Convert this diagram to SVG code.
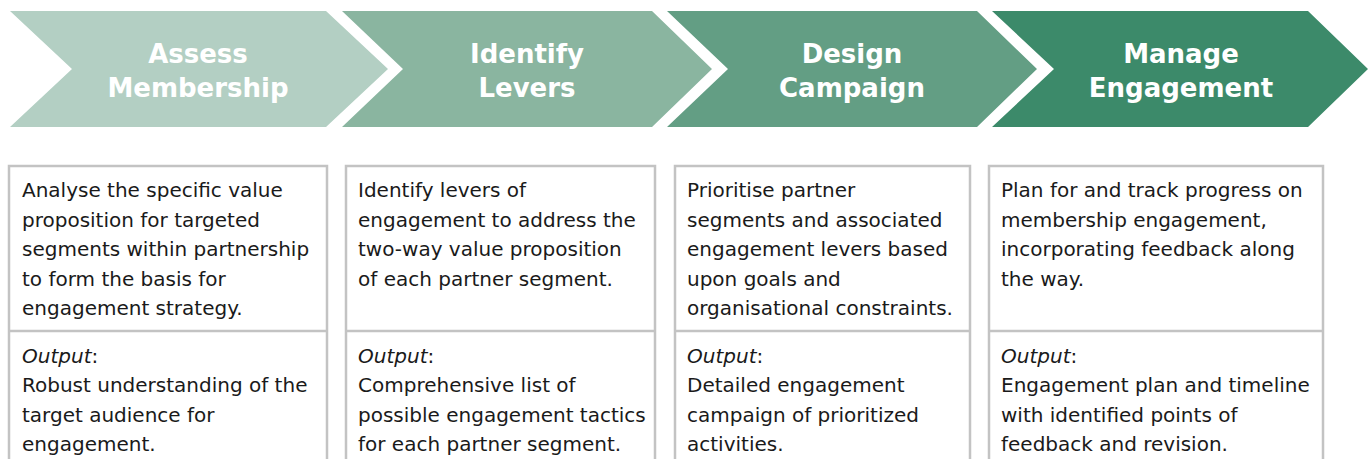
<svg xmlns="http://www.w3.org/2000/svg" width="1368" height="459" viewBox="0 0 1368 459">
<style>
.title{font-family:"DejaVu Sans",sans-serif;font-weight:bold;font-size:26px;fill:#ffffff;text-anchor:middle}
.body{font-family:"DejaVu Sans",sans-serif;font-size:20px;fill:#1a1a1a}
.it{font-style:italic}
.box{fill:#ffffff;stroke:#c3c3c3;stroke-width:2.5}
</style>
<rect width="1368" height="459" fill="#ffffff"/>
<g id="step1">
<polygon points="10,11 326,11 388,69 326,127 10,127 72,69" fill="#b3cfc3"/>
<text class="title" x="198" y="63">Assess</text>
<text class="title" x="198" y="97">Membership</text>
</g>
<g id="step2">
<polygon points="342,11 652,11 712,69 652,127 342,127 403,69" fill="#8ab5a0"/>
<text class="title" x="527" y="63">Identify</text>
<text class="title" x="527" y="97">Levers</text>
</g>
<g id="step3">
<polygon points="667,11 977,11 1037,69 977,127 667,127 728,69" fill="#639e84"/>
<text class="title" x="852" y="63">Design</text>
<text class="title" x="852" y="97">Campaign</text>
</g>
<g id="step4">
<polygon points="992,11 1308,11 1368,69 1308,127 992,127 1054,69" fill="#3c8a6a"/>
<text class="title" x="1181" y="63">Manage</text>
<text class="title" x="1181" y="97">Engagement</text>
</g>
<g id="box1">
<rect class="box" x="9" y="166" width="318" height="310"/>
<line x1="9" y1="331" x2="327" y2="331" stroke="#c3c3c3" stroke-width="2.5"/>
<text class="body" x="22"><tspan x="22" y="197">Analyse the specific value</tspan><tspan x="22" y="226.5">proposition for targeted</tspan><tspan x="22" y="256">segments within partnership</tspan><tspan x="22" y="285.5">to form the basis for</tspan><tspan x="22" y="315">engagement strategy.</tspan></text>
<text class="body"><tspan class="it" x="22" y="363">Output</tspan><tspan>:</tspan><tspan x="22" y="392">Robust understanding of the</tspan><tspan x="22" y="421.5">target audience for</tspan><tspan x="22" y="451">engagement.</tspan></text>
</g>
<g id="box2">
<rect class="box" x="346" y="166" width="309" height="310"/>
<line x1="346" y1="331" x2="655" y2="331" stroke="#c3c3c3" stroke-width="2.5"/>
<text class="body"><tspan x="358" y="197">Identify levers of</tspan><tspan x="358" y="226.5">engagement to address the</tspan><tspan x="358" y="256">two-way value proposition</tspan><tspan x="358" y="285.5">of each partner segment.</tspan></text>
<text class="body"><tspan class="it" x="358" y="363">Output</tspan><tspan>:</tspan><tspan x="358" y="392">Comprehensive list of</tspan><tspan x="358" y="421.5">possible engagement tactics</tspan><tspan x="358" y="451">for each partner segment.</tspan></text>
</g>
<g id="box3">
<rect class="box" x="675" y="166" width="295" height="310"/>
<line x1="675" y1="331" x2="970" y2="331" stroke="#c3c3c3" stroke-width="2.5"/>
<text class="body"><tspan x="687" y="197">Prioritise partner</tspan><tspan x="687" y="226.5">segments and associated</tspan><tspan x="687" y="256">engagement levers based</tspan><tspan x="687" y="285.5">upon goals and</tspan><tspan x="687" y="315">organisational constraints.</tspan></text>
<text class="body"><tspan class="it" x="687" y="363">Output</tspan><tspan>:</tspan><tspan x="687" y="392">Detailed engagement</tspan><tspan x="687" y="421.5">campaign of prioritized</tspan><tspan x="687" y="451">activities.</tspan></text>
</g>
<g id="box4">
<rect class="box" x="989" y="166" width="334" height="310"/>
<line x1="989" y1="331" x2="1323" y2="331" stroke="#c3c3c3" stroke-width="2.5"/>
<text class="body"><tspan x="1001" y="197">Plan for and track progress on</tspan><tspan x="1001" y="226.5">membership engagement,</tspan><tspan x="1001" y="256">incorporating feedback along</tspan><tspan x="1001" y="285.5">the way.</tspan></text>
<text class="body"><tspan class="it" x="1001" y="363">Output</tspan><tspan>:</tspan><tspan x="1001" y="392">Engagement plan and timeline</tspan><tspan x="1001" y="421.5">with identified points of</tspan><tspan x="1001" y="451">feedback and revision.</tspan></text>
</g>
<g id="connectors"></g>
</svg>
